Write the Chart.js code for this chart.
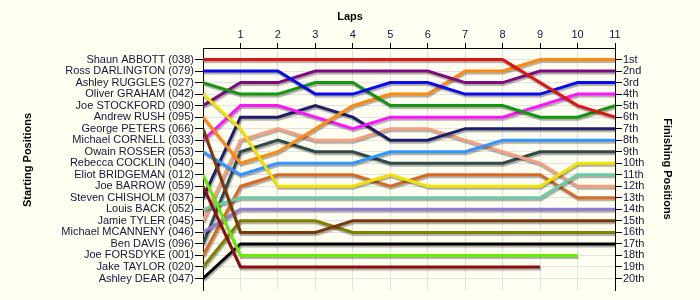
<!DOCTYPE html>
<html>
<head>
<meta charset="utf-8">
<script src="https://cdn.jsdelivr.net/npm/chart.js@4.4.1/dist/chart.umd.min.js"></script>
<style>
  html, body { margin: 0; padding: 0; background: #fffff2; }
  #wrap { width: 700px; height: 300px; }
</style>
</head>
<body>
<div id="wrap"><canvas id="c" width="700" height="300"></canvas></div>
<script>
// Lap numbers shown on the top axis
const lapTicks = [1, 2, 3, 4, 5, 6, 7, 8, 9, 10, 11];

// Driver names in starting order (left axis labels)
const drivers = [
  'Shaun ABBOTT (038)', 'Ross DARLINGTON (079)', 'Ashley RUGGLES (027)', 'Oliver GRAHAM (042)',
  'Joe STOCKFORD (090)', 'Andrew RUSH (095)', 'George PETERS (066)', 'Michael CORNELL (033)',
  'Owain ROSSER (053)', 'Rebecca COCKLIN (040)', 'Eliot BRIDGEMAN (012)', 'Joe BARROW (059)',
  'Steven CHISHOLM (037)', 'Louis BACK (052)', 'Jamie TYLER (045)', 'Michael MCANNENY (046)',
  'Ben DAVIS (096)', 'Joe FORSDYKE (001)', 'Jake TAYLOR (020)', 'Ashley DEAR (047)'
];

// Finishing position labels (right axis)
const finishLabels = ['1st','2nd','3rd','4th','5th','6th','7th','8th','9th','10th',
  '11th','12th','13th','14th','15th','16th','17th','18th','19th','20th'];

// Position of each driver at lap 0 (start) .. lap 11
const abbott     = [1, 1, 1, 1, 1, 1, 1, 1, 1, 3, 5, 6];
const darlington = [2, 2, 2, 4, 4, 3, 3, 4, 4, 4, 3, 3];
const ruggles    = [3, 4, 4, 3, 3, 5, 5, 5, 5, 6, 6, 5];
const graham     = [4, 7, 12, 12, 12, 11, 12, 12, 12, 12, 10, 10];
const stockford  = [5, 3, 3, 2, 2, 2, 2, 3, 3, 2, 2, 2];
const rush       = [6, 10, 9, 7, 5, 4, 4, 2, 2, 1, 1, 1];
const peters     = [7, 16, 16, 16, 15, 15, 15, 15, 15, 15, 15, 15];
const cornell    = [8, 5, 5, 6, 7, 6, 6, 6, 6, 5, 4, 4];
const rosser     = [9, 11, 10, 10, 10, 9, 9, 9, 8, 8, 8, 8];
const cocklin    = [];
const bridgeman  = [11, 18, 18, 18, 18, 18, 18, 18, 18, 18, 18];
const barrow     = [12, 19, 19, 19, 19, 19, 19, 19, 19, 19];
const chisholm   = [13, 6, 6, 5, 6, 8, 8, 7, 7, 7, 7, 7];
const back       = [14, 13, 13, 13, 13, 13, 13, 13, 13, 13, 11, 11];
const tyler      = [15, 8, 7, 8, 8, 7, 7, 8, 9, 10, 12, 12];
const mcanneny   = [16, 14, 14, 14, 14, 14, 14, 14, 14, 14, 14, 14];
const davis      = [17, 9, 8, 9, 9, 10, 10, 10, 10, 9, 9, 9];
const forsdyke   = [18, 12, 11, 11, 11, 12, 11, 11, 11, 11, 13, 13];
const taylor     = [19, 15, 15, 15, 16, 16, 16, 16, 16, 16, 16, 16];
const dear       = [20, 17, 17, 17, 17, 17, 17, 17, 17, 17, 17, 17];

const series = [abbott, darlington, ruggles, graham, stockford, rush, peters, cornell, rosser, cocklin,
  bridgeman, barrow, chisholm, back, tyler, mcanneny, davis, forsdyke, taylor, dear];

const colors = ['#e01414', '#0a0aee', '#12960f', '#f2e200', '#7f0a80', '#ff8a0e', '#7a3a0a', '#ff14ff',
  '#3396ff', '#888888', '#66ee00', '#8a0f0f', '#1e1e6a', '#6ccaa8', '#f4a080', '#9478d8',
  '#2f4a48', '#d86a26', '#7f7f00', '#000000'];

const datasets = series.map((arr, i) => ({
  label: drivers[i],
  data: arr.map((v, lap) => ({ x: lap, y: v })),
  borderColor: colors[i],
  backgroundColor: colors[i],
  borderWidth: 3,
  pointRadius: 0,
  tension: 0,
  fill: false
}));

const shadowPlugin = {
  id: 'shadow',
  beforeDatasetDraw(chart) {
    const ctx = chart.ctx;
    ctx.save();
    ctx.shadowColor = 'rgba(0,0,0,0.32)';
    ctx.shadowOffsetX = 1;
    ctx.shadowOffsetY = 2;
    ctx.shadowBlur = 1;
  },
  afterDatasetDraw(chart) {
    chart.ctx.restore();
  }
};

const bgPlugin = {
  id: 'bg',
  beforeDraw(chart) {
    const ctx = chart.ctx;
    ctx.save();
    ctx.fillStyle = '#fffff2';
    ctx.fillRect(0, 0, chart.width, chart.height);
    ctx.restore();
  }
};

const titlesPlugin = {
  id: 'titles',
  afterDraw(chart) {
    const ctx = chart.ctx;
    ctx.save();
    ctx.fillStyle = '#000';
    ctx.font = 'bold 11px "Liberation Sans", Arial, sans-serif';
    ctx.textAlign = 'center';
    ctx.textBaseline = 'middle';
    ctx.fillText('Laps', 350, 17);
    ctx.save();
    ctx.translate(28, 160);
    ctx.rotate(-Math.PI / 2);
    ctx.fillText('Starting Positions', 0, 0);
    ctx.restore();
    ctx.save();
    ctx.translate(667, 169);
    ctx.rotate(Math.PI / 2);
    ctx.fillText('Finishing Positions', 0, 0);
    ctx.restore();
    ctx.restore();
  }
};

const tickFont = { family: '"Liberation Sans", Arial, sans-serif', size: 11 };
const tickColor = '#141440';

new Chart(document.getElementById('c'), {
  type: 'line',
  data: { datasets },
  options: {
    responsive: false,
    animation: false,
    layout: { padding: { left: 0, right: 0, top: 0, bottom: 10 } },
    plugins: { legend: { display: false }, tooltip: { enabled: false }, title: { display: false } },
    scales: {
      x: {
        type: 'linear',
        position: 'top',
        min: 0,
        max: 11,
        afterBuildTicks(s) { s.ticks = lapTicks.map(v => ({ value: v })); },
        afterFit(s) { s.height = 48; },
        ticks: { font: tickFont, color: tickColor, padding: 1, maxRotation: 0, autoSkip: false },
        grid: { color: '#e2e2e2', lineWidth: 1, tickColor: '#000', tickLength: 5 },
        border: { color: '#000', width: 1 }
      },
      y: {
        type: 'linear',
        position: 'left',
        reverse: true,
        min: 0,
        max: 21,
        afterBuildTicks(s) { s.ticks = drivers.map((d, i) => ({ value: i + 1 })); },
        afterFit(s) { s.width = 203; },
        ticks: {
          font: tickFont, color: tickColor, padding: 1, autoSkip: false,
          callback: (v) => drivers[v - 1] || ''
        },
        grid: { color: '#e2e2e2', lineWidth: 1, tickColor: '#000', tickLength: 8 },
        border: { color: '#000', width: 1 }
      },
      y2: {
        type: 'linear',
        position: 'right',
        reverse: true,
        min: 0,
        max: 21,
        afterBuildTicks(s) { s.ticks = finishLabels.map((d, i) => ({ value: i + 1 })); },
        afterFit(s) { s.width = 85; },
        ticks: {
          font: tickFont, color: tickColor, padding: 1, autoSkip: false,
          callback: (v) => finishLabels[v - 1] || ''
        },
        grid: { drawOnChartArea: false, tickColor: '#000', tickLength: 7 },
        border: { color: '#000', width: 1 }
      }
    }
  },
  plugins: [bgPlugin, shadowPlugin, titlesPlugin]
});
</script>
</body>
</html>
